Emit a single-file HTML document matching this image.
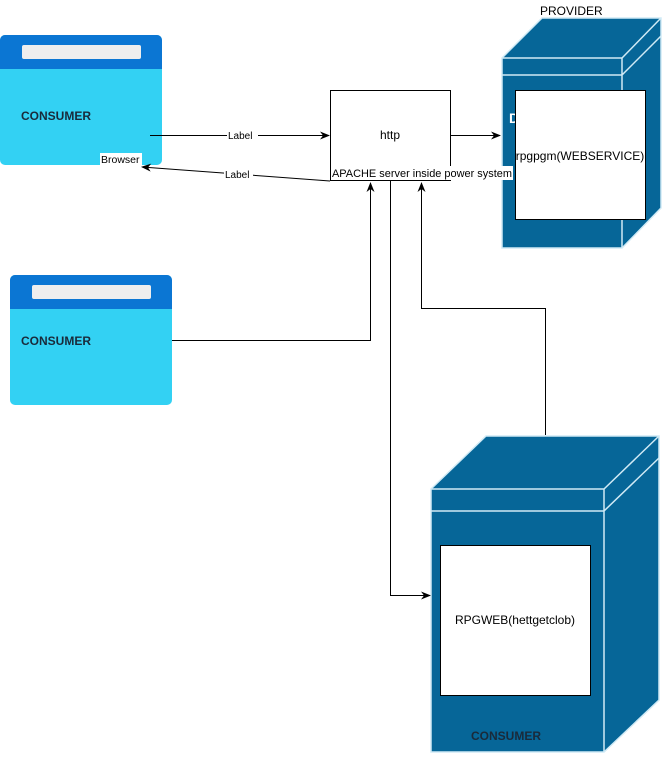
<!DOCTYPE html>
<html><head><style>body{margin:0;background:#fff}svg{display:block;font-family:"Liberation Sans",sans-serif}</style></head><body>
<svg width="662" height="757" viewBox="0 0 662 757">
<defs><marker id="a" markerWidth="10" markerHeight="10" refX="9" refY="5" orient="auto" markerUnits="userSpaceOnUse"><path d="M0,1 L10,5 L0,9 L3,5z" fill="#000"/></marker></defs>
<rect x="0" y="35" width="162" height="130" rx="5" fill="#33d1f3"/>
<path d="M0,69 V40 a5,5 0 0 1 5,-5 H157 a5,5 0 0 1 5,5 V69z" fill="#0b76d3"/>
<rect x="22" y="45" width="119" height="14" rx="2" fill="#eee"/>
<text x="21" y="120" font-size="12" font-weight="bold" fill="#1a2a3a">CONSUMER</text>
<rect x="100" y="153" width="42" height="13" fill="#fff"/>
<text x="101" y="163" font-size="10.5">Browser</text>
<rect x="10" y="275" width="162" height="130" rx="5" fill="#33d1f3"/>
<path d="M10,309 V280 a5,5 0 0 1 5,-5 H167 a5,5 0 0 1 5,5 V309z" fill="#0b76d3"/>
<rect x="32" y="285" width="119" height="14" rx="2" fill="#eee"/>
<text x="21" y="345" font-size="12" font-weight="bold" fill="#1a2a3a">CONSUMER</text>
<text x="540" y="15" font-size="12">PROVIDER</text>
<path d="M502,58 L542,18 H661 V208 L622,248 H502z" fill="#066698" stroke="#d0eaf5" stroke-width="1.5"/>
<path d="M502,58 H622 L661,18 M622,58 V248 M502,75 H622 L661,36" fill="none" stroke="#d0eaf5" stroke-width="1.5"/>
<text x="509" y="123" font-size="14" font-weight="bold" fill="#fff">D</text>
<rect x="515.5" y="90.5" width="130" height="129" fill="#fff" stroke="#000"/>
<text x="580" y="160" font-size="12" text-anchor="middle">rpgpgm(WEBSERVICE)</text>
<path d="M431,489 L486,436 H659 V700 L604,752 H431z" fill="#066698" stroke="#d0eaf5" stroke-width="1.5"/>
<path d="M431,489 H604 L659,436 M604,489 V752 M431,511 H604 L659,458" fill="none" stroke="#d0eaf5" stroke-width="1.5"/>
<rect x="440.5" y="545.5" width="150" height="150" fill="#fff" stroke="#000"/>
<text x="515" y="624" font-size="12" text-anchor="middle">RPGWEB(hettgetclob)</text>
<text x="506" y="740" font-size="12" font-weight="bold" fill="#1a2a3a" text-anchor="middle">CONSUMER</text>
<rect x="330.5" y="90.5" width="120" height="90" fill="#fff" stroke="#000"/>
<text x="390" y="139" font-size="12" text-anchor="middle">http</text>
<rect x="331" y="166" width="182" height="14" fill="#fff"/>
<text x="332" y="177" font-size="10.8" textLength="180" lengthAdjust="spacingAndGlyphs">APACHE server inside power system</text>
<g stroke="#000" fill="none" stroke-width="1">
<path d="M150,135.5 H329" marker-end="url(#a)"/>
<path d="M451,135.5 H500" marker-end="url(#a)"/>
<path d="M330,181 L142,167" marker-end="url(#a)"/>
<path d="M172,340.5 H370.5 V183" marker-end="url(#a)"/>
<path d="M390.5,181 V595.5 H430" marker-end="url(#a)"/>
<path d="M545.5,435 V308.5 H421.5 V183" marker-end="url(#a)"/>
</g>
<rect x="227" y="129" width="31" height="12" fill="#fff"/>
<text x="228" y="139" font-size="10">Label</text>
<rect x="224" y="168" width="29" height="12" fill="#fff"/>
<text x="225" y="178" font-size="10">Label</text>
</svg></body></html>
